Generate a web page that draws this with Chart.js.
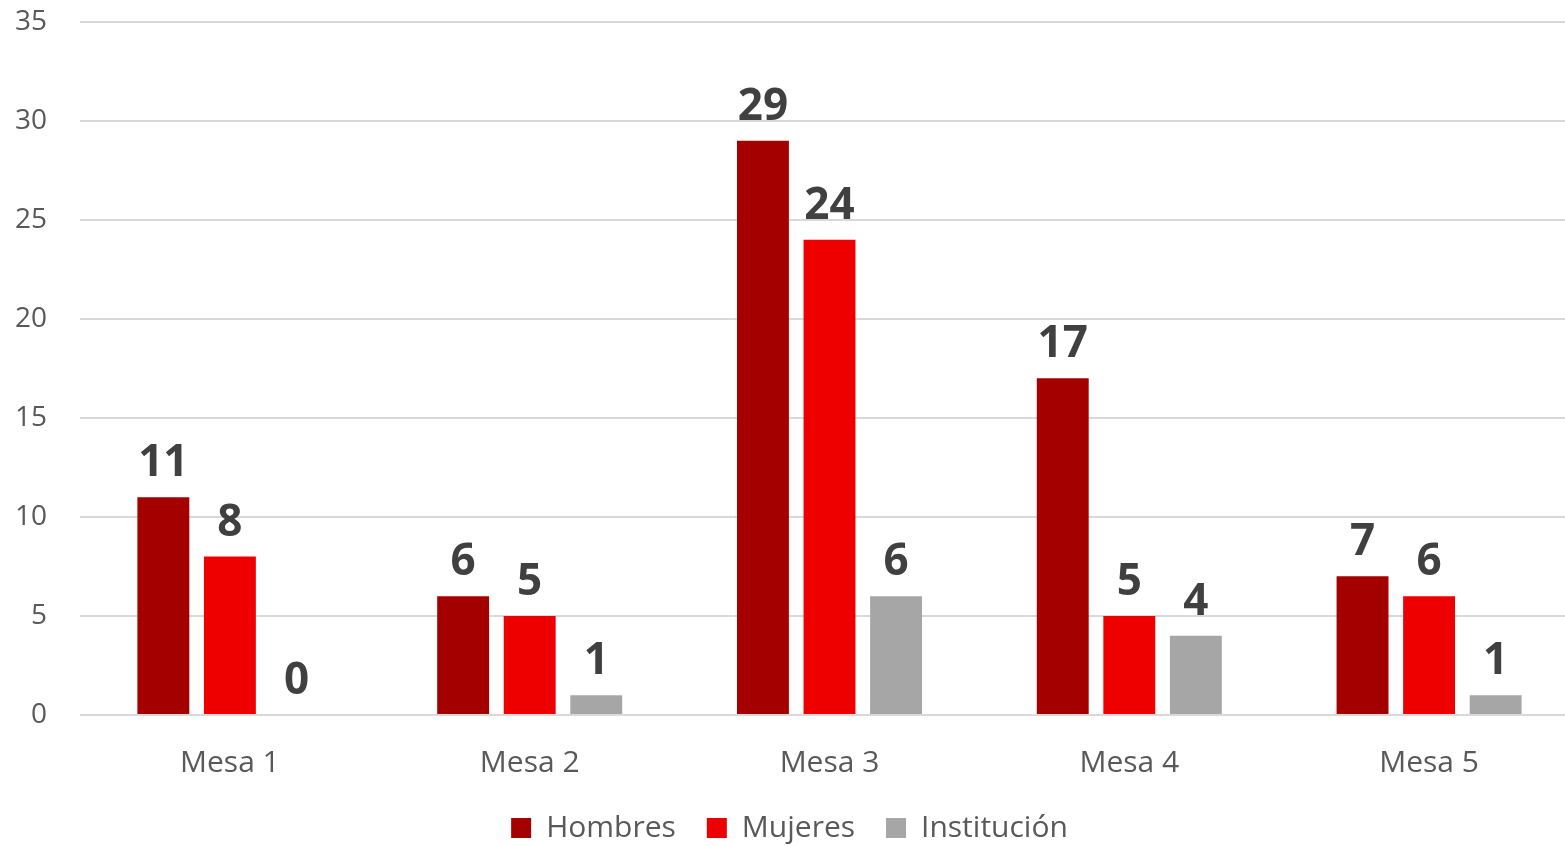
<!DOCTYPE html>
<html>
<head>
<meta charset="utf-8">
<script src="https://cdn.jsdelivr.net/npm/chart.js@4/dist/chart.umd.min.js"></script>
<style>
    html, body { margin: 0; padding: 0; background: #fff; overflow: hidden; }
    #wrap { width: 1565px; height: 846px; position: relative; overflow: hidden; }
    #inner { position: absolute; left: 0; top: -28px; width: 1579px; height: 881px; }
</style>
</head>
<body>
<div id="wrap"><div id="inner"><canvas id="chart"></canvas></div></div>
<script>
(function () {
    "use strict";

    const mesas = ["Mesa 1", "Mesa 2", "Mesa 3", "Mesa 4", "Mesa 5"];
    const hombres = [11, 6, 29, 17, 7];
    const mujeres = [8, 5, 24, 5, 6];
    const institucion = [0, 1, 6, 4, 1];

    const font = "'Open Sans', 'Noto Sans', sans-serif";

    // value labels above each bar
    const barLabels = {
        id: "barLabels",
        afterDatasetsDraw(chart) {
            const ctx = chart.ctx;
            ctx.save();
            ctx.font = "bold 44px " + font;
            ctx.fillStyle = "#404040";
            ctx.textAlign = "center";
            ctx.textBaseline = "alphabetic";
            chart.data.datasets.forEach((ds, i) => {
                chart.getDatasetMeta(i).data.forEach((bar, j) => {
                    ctx.fillText(String(ds.data[j]), bar.x, bar.y - 21);
                });
            });
            ctx.restore();
        },
    };

    new Chart(document.getElementById("chart"), {
        type: "bar",
        data: {
            labels: mesas,
            datasets: [
                { label: "Hombres", data: hombres, backgroundColor: "#A50000" },
                { label: "Mujeres", data: mujeres, backgroundColor: "#EE0000" },
                { label: "Institución", data: institucion, backgroundColor: "#A6A6A6" },
            ],
        },
        options: {
            responsive: true,
            maintainAspectRatio: false,
            animation: false,
            categoryPercentage: 0.666,
            barPercentage: 0.78,
            layout: { padding: 0 },
            scales: {
                x: {
                    grid: { display: false },
                    border: { display: false },
                    ticks: { color: "#595959", font: { family: font, size: 30 }, padding: 22 },
                    afterFit: (s) => { s.height = 67; },
                },
                y: {
                    min: 0,
                    max: 35,
                    ticks: { stepSize: 5, color: "#595959", font: { family: font, size: 28 }, padding: 33 },
                    grid: { color: "#D9D9D9", lineWidth: 2, drawTicks: false },
                    border: { display: false },
                    afterFit: (s) => { s.width = 80; },
                },
            },
            plugins: {
                legend: {
                    position: "bottom",
                    labels: {
                        color: "#595959",
                        font: { family: font, size: 30 },
                        boxWidth: 20,
                        boxHeight: 20,
                        padding: 31,
                    },
                },
                tooltip: { enabled: false },
            },
        },
        plugins: [barLabels],
    });
})();
</script>
</body>
</html>
